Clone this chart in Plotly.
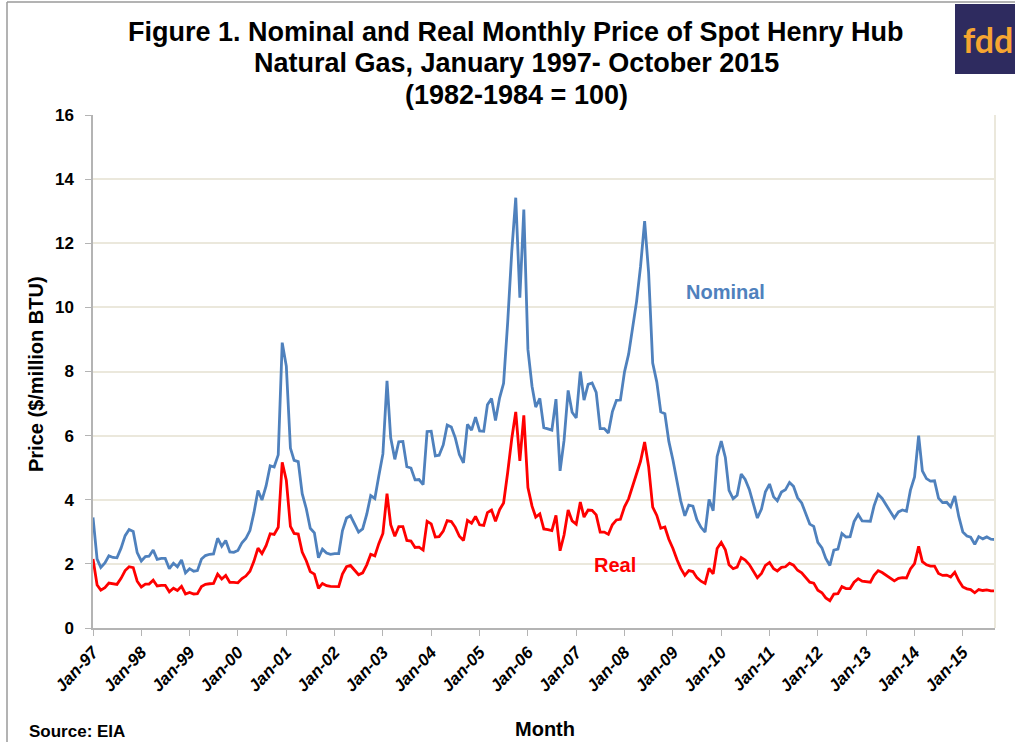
import plotly.graph_objects as go
import pandas as pd

# Monthly data, Jan 1997 - Sep 2015 (last plotted point sits at the right edge)
months = pd.date_range("1997-01-01", periods=225, freq="MS")

nominal = [
    3.45, 2.15, 1.89, 2.03, 2.25, 2.20, 2.19, 2.49, 2.88, 3.07, 3.01, 2.35,
    2.09, 2.23, 2.24, 2.43, 2.14, 2.17, 2.17, 1.85, 2.02, 1.91, 2.12, 1.72,
    1.85, 1.77, 1.79, 2.15, 2.26, 2.30, 2.31, 2.80, 2.55, 2.73, 2.37, 2.36,
    2.42, 2.66, 2.79, 3.04, 3.59, 4.29, 3.99, 4.43, 5.06, 5.02, 5.40, 8.90,
    8.17, 5.61, 5.23, 5.19, 4.19, 3.72, 3.11, 2.97, 2.19, 2.46, 2.34, 2.30,
    2.32, 2.32, 3.03, 3.43, 3.50, 3.26, 2.99, 3.09, 3.55, 4.13, 4.04, 4.74,
    5.43, 7.71, 5.93, 5.26, 5.81, 5.82, 5.03, 4.99, 4.62, 4.63, 4.47, 6.13,
    6.14, 5.37, 5.39, 5.71, 6.33, 6.27, 5.93, 5.41, 5.15, 6.35, 6.17, 6.58,
    6.15, 6.14, 6.96, 7.16, 6.47, 7.18, 7.63, 9.53, 11.75, 13.42, 10.30, 13.05,
    8.69, 7.54, 6.89, 7.16, 6.25, 6.21, 6.17, 7.14, 4.90, 5.85, 7.41, 6.73,
    6.55, 8.00, 7.11, 7.60, 7.64, 7.35, 6.22, 6.22, 6.08, 6.74, 7.10, 7.11,
    7.99, 8.54, 9.41, 10.18, 11.27, 12.69, 11.09, 8.26, 7.67, 6.74, 6.68, 5.82,
    5.24, 4.52, 3.96, 3.50, 3.83, 3.80, 3.38, 3.14, 2.99, 4.01, 3.66, 5.35,
    5.83, 5.32, 4.29, 4.03, 4.14, 4.80, 4.63, 4.32, 3.89, 3.43, 3.71, 4.25,
    4.49, 4.09, 3.97, 4.24, 4.31, 4.54, 4.42, 4.06, 3.90, 3.57, 3.24, 3.17,
    2.67, 2.50, 2.17, 1.95, 2.43, 2.46, 2.95, 2.84, 2.85, 3.32, 3.54, 3.34,
    3.33, 3.33, 3.81, 4.17, 4.04, 3.83, 3.62, 3.43, 3.62, 3.68, 3.64, 4.30,
    4.71, 6.00, 4.90, 4.66, 4.58, 4.59, 4.05, 3.91, 3.92, 3.78, 4.12, 3.48,
    2.99, 2.87, 2.83, 2.61, 2.85, 2.78, 2.84, 2.77, 2.76,
]

real = [
    2.15, 1.34, 1.18, 1.26, 1.40, 1.37, 1.36, 1.55, 1.79, 1.91, 1.88, 1.46,
    1.28, 1.37, 1.37, 1.49, 1.31, 1.33, 1.33, 1.13, 1.24, 1.17, 1.30, 1.06,
    1.11, 1.06, 1.07, 1.29, 1.36, 1.38, 1.39, 1.68, 1.53, 1.64, 1.42, 1.42,
    1.41, 1.54, 1.62, 1.77, 2.08, 2.49, 2.32, 2.57, 2.94, 2.92, 3.14, 5.17,
    4.61, 3.17, 2.95, 2.93, 2.37, 2.10, 1.76, 1.68, 1.24, 1.39, 1.32, 1.30,
    1.29, 1.29, 1.68, 1.91, 1.95, 1.81, 1.66, 1.72, 1.97, 2.30, 2.25, 2.63,
    2.95, 4.19, 3.22, 2.86, 3.16, 3.16, 2.73, 2.71, 2.51, 2.52, 2.43, 3.33,
    3.25, 2.84, 2.85, 3.02, 3.35, 3.32, 3.14, 2.86, 2.73, 3.36, 3.27, 3.48,
    3.22, 3.20, 3.60, 3.68, 3.33, 3.69, 3.90, 4.85, 5.91, 6.74, 5.21, 6.63,
    4.38, 3.80, 3.46, 3.56, 3.09, 3.07, 3.04, 3.51, 2.41, 2.90, 3.68, 3.34,
    3.24, 3.93, 3.46, 3.68, 3.67, 3.53, 2.99, 2.99, 2.92, 3.22, 3.37, 3.39,
    3.78, 4.03, 4.41, 4.74, 5.20, 5.80, 5.04, 3.77, 3.51, 3.11, 3.15, 2.77,
    2.48, 2.13, 1.86, 1.64, 1.79, 1.76, 1.57, 1.46, 1.39, 1.86, 1.69, 2.48,
    2.67, 2.44, 1.97, 1.85, 1.90, 2.20, 2.12, 1.98, 1.78, 1.57, 1.70, 1.95,
    2.04, 1.85, 1.78, 1.89, 1.91, 2.02, 1.96, 1.80, 1.72, 1.58, 1.43, 1.40,
    1.18, 1.10, 0.94, 0.85, 1.06, 1.07, 1.29, 1.23, 1.23, 1.43, 1.54, 1.46,
    1.44, 1.43, 1.64, 1.79, 1.73, 1.64, 1.55, 1.47, 1.55, 1.57, 1.56, 1.84,
    2.01, 2.55, 2.07, 1.97, 1.93, 1.93, 1.70, 1.64, 1.65, 1.59, 1.74, 1.48,
    1.28, 1.22, 1.20, 1.10, 1.20, 1.17, 1.19, 1.16, 1.16,
]

tick_years = list(range(1997, 2016))
tick_vals = [f"{y}-01-01" for y in tick_years]
tick_text = [f"Jan-{y % 100:02d}" for y in tick_years]
y_ticks = [0, 2, 4, 6, 8, 10, 12, 14, 16]

W, H = 1015, 742
L, R, T, B = 93, 995, 115, 628


def px(x):
    return (x - L) / (R - L)


def py(y):
    return (B - y) / (B - T)


FONT = "Liberation Sans, Arial, sans-serif"
BLUE = "#4f81bd"
RED = "#ff0000"
GRID = "#ebe8dc"

fig = go.Figure()
fig.add_trace(go.Scatter(x=months, y=nominal, mode="lines", name="Nominal",
                         line=dict(color=BLUE, width=2.8)))
fig.add_trace(go.Scatter(x=months, y=real, mode="lines", name="Real",
                         line=dict(color=RED, width=2.8)))

fig.update_layout(
    width=W, height=H, autosize=False,
    margin=dict(l=L, r=W - R, t=T, b=H - B),
    paper_bgcolor="white", plot_bgcolor="white",
    showlegend=False,
    font=dict(family=FONT, color="black"),
    xaxis=dict(
        type="date", range=[months[0], months[-1]],
        tickmode="array", tickvals=tick_vals, ticktext=[f"<b><i>{t}</i></b>" for t in tick_text],
        tickangle=-47, tickfont=dict(size=17, family=FONT),
        showgrid=False, zeroline=False,
        showline=True, linecolor="#b4b4b4", linewidth=1.5,
        ticks="outside", ticklen=6, tickcolor="#b4b4b4", tickwidth=1.2,
    ),
    yaxis=dict(
        range=[0, 16], tickmode="array", tickvals=y_ticks,
        ticktext=[f"<b>{v}</b>" for v in y_ticks],
        tickfont=dict(size=17, family=FONT),
        showgrid=True, gridcolor=GRID, gridwidth=2,
        zeroline=False,
        showline=True, linecolor="#b4b4b4", linewidth=1.5,
        ticks="outside", ticklen=6, tickcolor="#b4b4b4", tickwidth=1.2,
        ticklabelstandoff=8,
    ),
)

shapes = [
    # right border of plot area
    dict(type="line", xref="paper", yref="paper", x0=1, x1=1, y0=0, y1=1,
         line=dict(color=GRID, width=2)),
    # outer chart frame (top and left)
    dict(type="line", xref="paper", yref="paper", x0=px(7), x1=px(1015), y0=py(2), y1=py(2),
         line=dict(color="#9a9a9a", width=1.5)),
    dict(type="line", xref="paper", yref="paper", x0=px(7), x1=px(7), y0=py(2), y1=py(742),
         line=dict(color="#9a9a9a", width=1.5)),
    # logo box
    dict(type="rect", xref="paper", yref="paper", x0=px(955), x1=px(1016), y0=py(74), y1=py(4),
         fillcolor="#2e2b5f", line=dict(width=0), layer="above"),
]
fig.update_layout(shapes=shapes)

ann = []
title_lines = [
    ("Figure 1. Nominal and Real Monthly Price of Spot Henry Hub", 32),
    ("Natural Gas, January 1997- October 2015", 63),
    ("(1982-1984 = 100)", 95),
]
for text, yc in title_lines:
    ann.append(dict(text=f"<b>{text}</b>", x=px(516), y=py(yc), xref="paper", yref="paper",
                    xanchor="center", yanchor="middle", showarrow=False,
                    font=dict(size=27, family=FONT, color="black")))
ann += [
    dict(text="<b>Nominal</b>", x=px(725), y=py(292), xref="paper", yref="paper",
         xanchor="center", yanchor="middle", showarrow=False,
         font=dict(size=20, family=FONT, color=BLUE)),
    dict(text="<b>Real</b>", x=px(615), y=py(565), xref="paper", yref="paper",
         xanchor="center", yanchor="middle", showarrow=False,
         font=dict(size=20, family=FONT, color=RED)),
    dict(text="<b>Price ($/million BTU)</b>", x=px(36), y=py(374), xref="paper", yref="paper",
         xanchor="center", yanchor="middle", showarrow=False, textangle=-90,
         font=dict(size=20, family=FONT, color="black")),
    dict(text="<b>Month</b>", x=px(545), y=py(729), xref="paper", yref="paper",
         xanchor="center", yanchor="middle", showarrow=False,
         font=dict(size=20, family=FONT, color="black")),
    dict(text="<b>Source: EIA</b>", x=px(27), y=py(731), xref="paper", yref="paper",
         xanchor="left", yanchor="middle", showarrow=False,
         font=dict(size=17, family=FONT, color="black")),
    dict(text="<b>fdd</b>", x=px(961), y=py(39), xref="paper", yref="paper",
         xanchor="left", yanchor="middle", showarrow=False,
         font=dict(size=34, family="Lato, Noto Sans, sans-serif", color="#f6a531")),
]
fig.update_layout(annotations=ann)

fig.write_html("out.html", config={"displayModeBar": False},
               post_script="document.body.style.margin='0';")
